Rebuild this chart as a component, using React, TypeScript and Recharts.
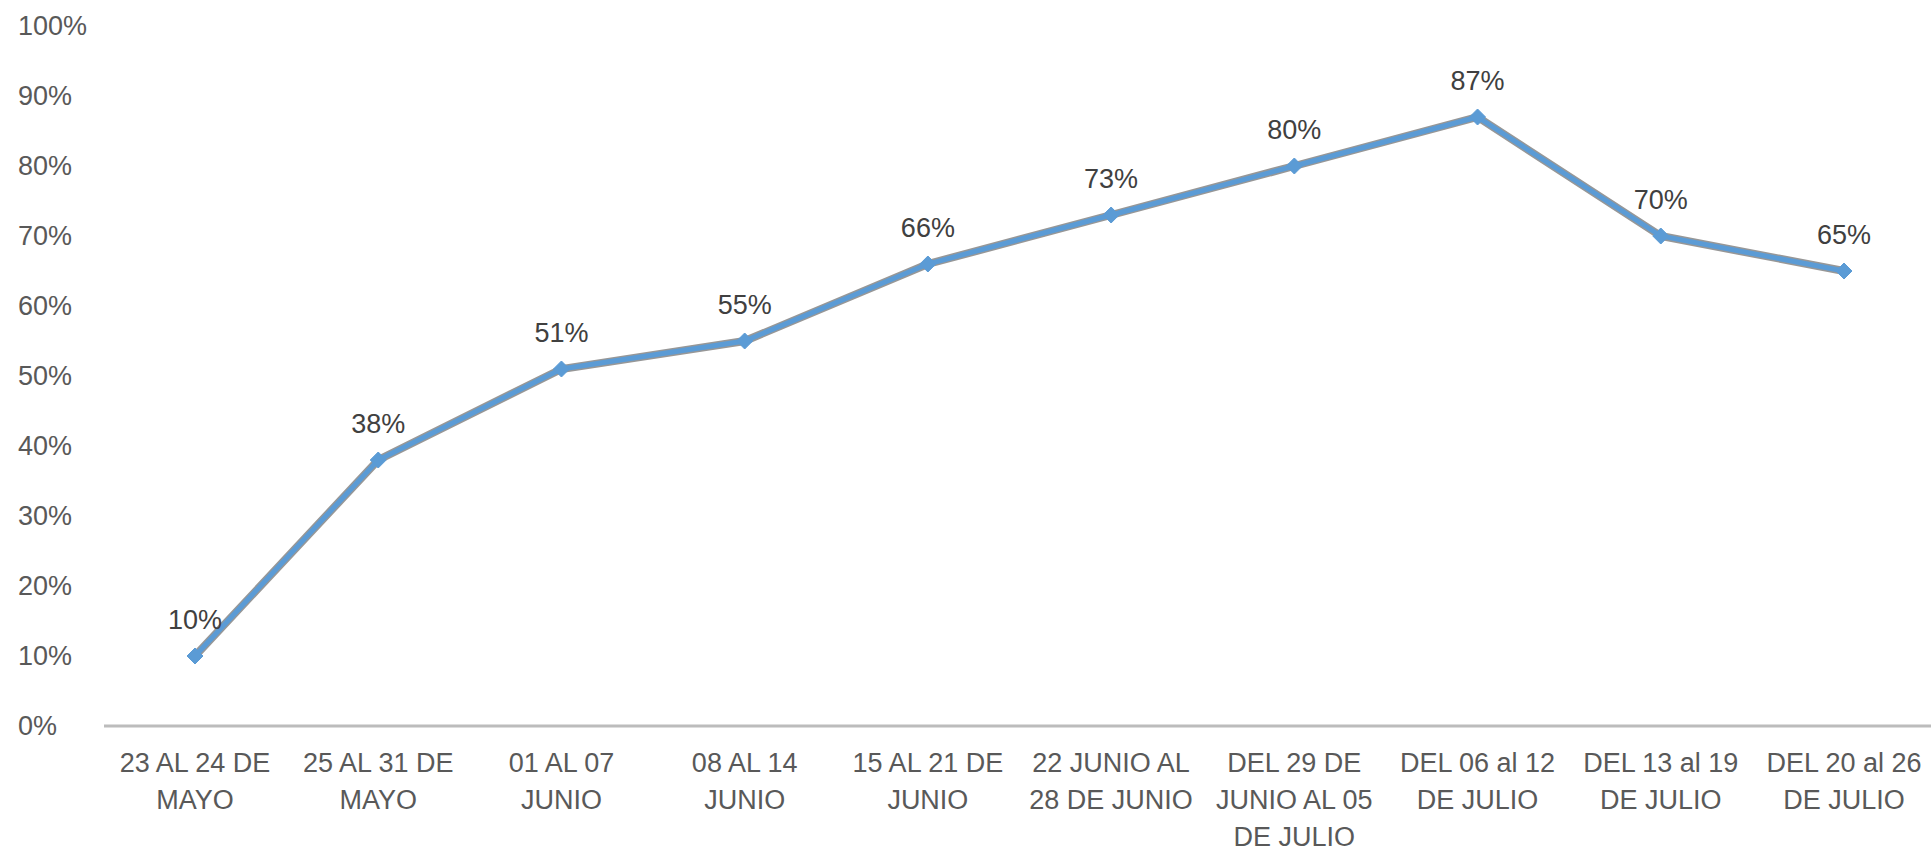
import React from 'react';
import { LineChart, Line, XAxis, YAxis, LabelList } from 'recharts';

const weeks = [
  '23 AL 24 DE MAYO',
  '25 AL 31 DE MAYO',
  '01 AL 07 JUNIO',
  '08 AL 14 JUNIO',
  '15 AL 21 DE JUNIO',
  '22 JUNIO AL 28 DE JUNIO',
  'DEL 29 DE JUNIO AL 05 DE JULIO',
  'DEL 06 al 12 DE JULIO',
  'DEL 13 al 19 DE JULIO',
  'DEL 20 al 26 DE JULIO',
];
const percent = [10, 38, 51, 55, 66, 73, 80, 87, 70, 65];
const yTicks = [0, 10, 20, 30, 40, 50, 60, 70, 80, 90, 100];

const data = weeks.map((name, i) => ({ name, value: percent[i] }));

const FONT = '"Liberation Sans", Arial, sans-serif';
const BLUE = '#5b9bd5';

// word wrap measured with a canvas, like the category labels in the original
let ctx: CanvasRenderingContext2D | null = null;
const wrap = (label: string, maxWidth: number) => {
  if (!ctx) {
    ctx = document.createElement('canvas').getContext('2d');
    if (ctx) ctx.font = `27px ${FONT}`;
  }
  const words = label.split(' ');
  const lines: string[] = [];
  let cur = '';
  words.forEach((w) => {
    const next = cur ? `${cur} ${w}` : w;
    const wd = ctx ? ctx.measureText(next).width : next.length * 15;
    if (wd > maxWidth && cur) {
      lines.push(cur);
      cur = w;
    } else {
      cur = next;
    }
  });
  if (cur) lines.push(cur);
  return lines;
};

const XTick = (props: any) => {
  const { x, y, payload } = props;
  const lines = wrap(payload.value, 178);
  return (
    <text
      x={x}
      y={y}
      textAnchor="middle"
      fontFamily={FONT}
      fontSize={27}
      fill="#595959"
    >
      {lines.map((l, i) => (
        <tspan key={i} x={x} dy={i === 0 ? 38 : 37}>
          {l}
        </tspan>
      ))}
    </text>
  );
};

const YTick = (props: any) => {
  const { y, payload } = props;
  return (
    <text
      x={18}
      y={y}
      dy={9}
      textAnchor="start"
      fontFamily={FONT}
      fontSize={27}
      fill="#595959"
    >
      {`${payload.value}%`}
    </text>
  );
};

const Diamond = (props: any) => {
  const { cx, cy, index } = props;
  if (cx == null || cy == null) return null;
  const r = 8;
  return (
    <path
      key={`d-${index}`}
      d={`M${cx},${cy - r} L${cx + r},${cy} L${cx},${cy + r} L${cx - r},${cy} Z`}
      fill={BLUE}
      stroke={BLUE}
    />
  );
};

export default function App() {
  return (
    <div
      style={{
        position: 'absolute',
        left: 0,
        top: 0,
        width: 1931,
        height: 849,
        overflow: 'hidden',
        background: '#fff',
      }}
    >
      <LineChart
        width={1940}
        height={849}
        data={data}
        margin={{ top: 26, right: 5, left: 0, bottom: 0 }}
      >
        <XAxis
          dataKey="name"
          interval={0}
          padding={{ left: 91, right: 91 }}
          tickLine={false}
          axisLine={{ stroke: '#bcbcbc', strokeWidth: 3 }}
          tick={<XTick />}
          height={123}
        />
        <YAxis
          domain={[0, 100]}
          ticks={yTicks}
          width={104}
          axisLine={false}
          tickLine={false}
          tick={<YTick />}
        />
        <Line
          dataKey="value"
          stroke="#979797"
          strokeWidth={8}
          dot={false}
          activeDot={false}
          isAnimationActive={false}
        />
        <Line
          dataKey="value"
          stroke={BLUE}
          strokeWidth={5}
          dot={<Diamond />}
          activeDot={false}
          isAnimationActive={false}
        >
          <LabelList
            dataKey="value"
            position="top"
            offset={27}
            formatter={(v: any) => `${v}%`}
            style={{ fontFamily: FONT, fontSize: 27, fill: '#404040' }}
          />
        </Line>
      </LineChart>
    </div>
  );
}
